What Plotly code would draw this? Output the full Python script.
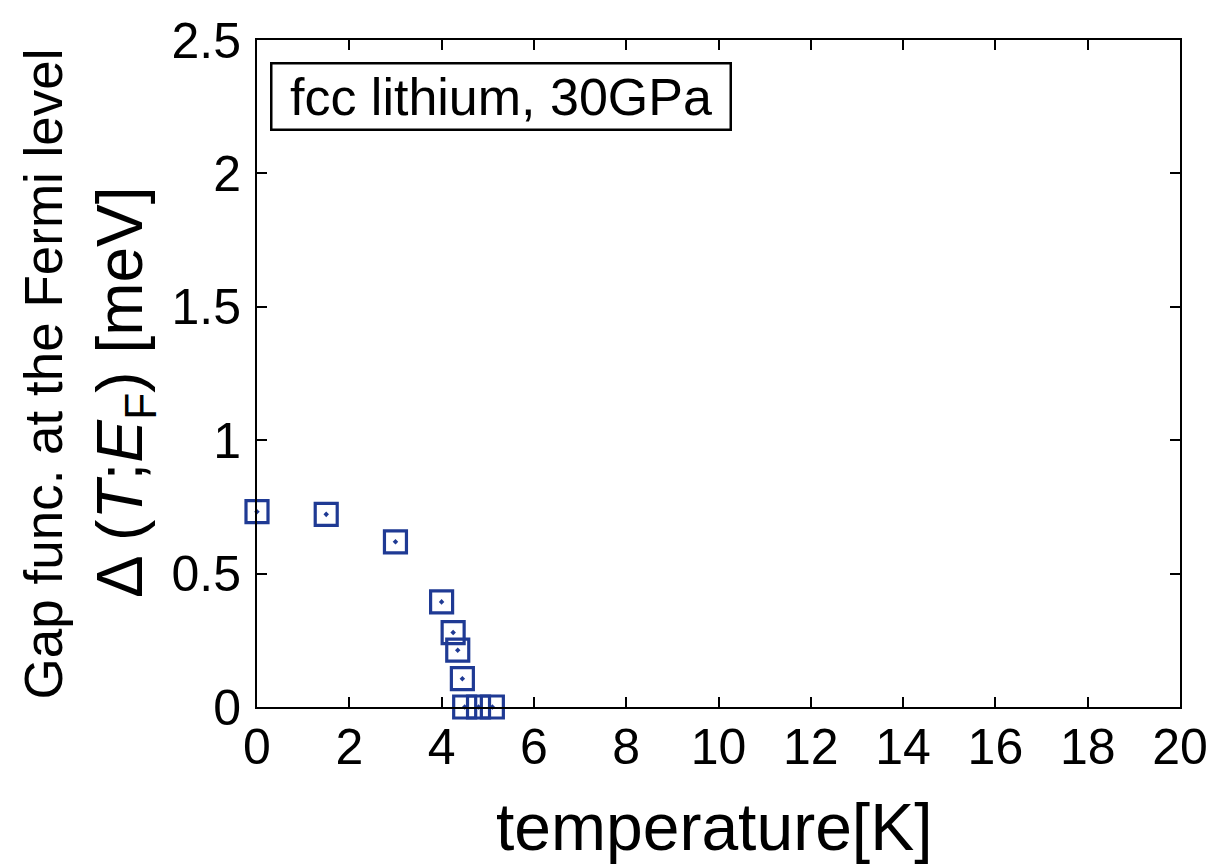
import plotly.graph_objects as go

# Superconducting gap at the Fermi level vs temperature (fcc Li, 30 GPa)
temperature_K = [0.0, 1.5, 3.0, 4.0, 4.25, 4.35, 4.45, 4.5, 4.8, 5.1]
gap_meV = [0.732, 0.722, 0.619, 0.394, 0.279, 0.213, 0.106, 0.0, 0.0, 0.0]

x_ticks = [0, 2, 4, 6, 8, 10, 12, 14, 16, 18, 20]
y_ticks = [0, 0.5, 1, 1.5, 2, 2.5]
y_tick_text = ["0", "0.5", "1", "1.5", "2", "2.5"]

FONT = "Liberation Sans, Arial, sans-serif"
BLUE = "#1f3a94"

W, H = 1220, 868
L, R, T, B = 257, 36, 35, 161
plot_w = W - L - R
plot_h = H - T - B


def px_to_paper_x(px):
    return (px - L) / plot_w


def px_to_paper_y(py):
    return (H - B - py) / plot_h


fig = go.Figure(
    go.Scatter(
        x=temperature_K,
        y=gap_meV,
        mode="markers",
        cliponaxis=False,
        marker=dict(
            symbol="square-open-dot",
            size=22,
            color=BLUE,
            line=dict(width=3.2, color=BLUE),
        ),
        showlegend=False,
    )
)

axis_common = dict(
    showgrid=False,
    zeroline=False,
    showline=True,
    linecolor="black",
    linewidth=2,
    mirror="ticks",
    ticks="inside",
    ticklen=10,
    tickwidth=1.5,
    tickcolor="black",
    tickfont=dict(family=FONT, size=50, color="black"),
)

fig.update_xaxes(
    range=[0, 20],
    tickmode="array",
    tickvals=x_ticks,
    ticktext=[str(v) for v in x_ticks],
    ticklabelstandoff=-5,
    **axis_common,
)
fig.update_yaxes(
    range=[0, 2.5],
    tickmode="array",
    tickvals=y_ticks,
    ticktext=y_tick_text,
    ticklabelstandoff=4,
    **axis_common,
)

NBSP = "\u00a0"

annotations = [
    # x-axis title
    dict(
        text="temperature[K]",
        xref="paper", yref="paper",
        x=px_to_paper_x(716), y=px_to_paper_y(828),
        xanchor="center", yanchor="middle",
        showarrow=False,
        font=dict(family=FONT, size=66, color="black"),
    ),
    # y-axis title, first line
    dict(
        text="Gap func. at the Fermi level",
        xref="paper", yref="paper",
        x=px_to_paper_x(43), y=px_to_paper_y(371),
        xanchor="center", yanchor="middle",
        textangle=-90,
        showarrow=False,
        font=dict(family=FONT, size=53, color="black"),
    ),
    # y-axis title, second line
    dict(
        text="Δ (<i>T</i>;<i>E</i><sub>F</sub>) [meV]",
        xref="paper", yref="paper",
        x=px_to_paper_x(124), y=px_to_paper_y(390),
        xanchor="center", yanchor="middle",
        textangle=-90,
        showarrow=False,
        font=dict(family=FONT, size=64, color="black"),
    ),
    # label box
    dict(
        text=NBSP + "fcc lithium, 30GPa" + NBSP,
        xref="paper", yref="paper",
        x=px_to_paper_x(502), y=px_to_paper_y(92),
        xanchor="center", yanchor="middle",
        showarrow=False,
        bordercolor="black",
        borderwidth=2.5,
        borderpad=3,
        bgcolor="white",
        font=dict(family=FONT, size=52, color="black"),
    ),
]

fig.update_layout(
    width=W,
    height=H,
    autosize=False,
    margin=dict(l=L, r=R, t=T, b=B, pad=0),
    paper_bgcolor="white",
    plot_bgcolor="white",
    annotations=annotations,
)

fig.write_html("out.html")
